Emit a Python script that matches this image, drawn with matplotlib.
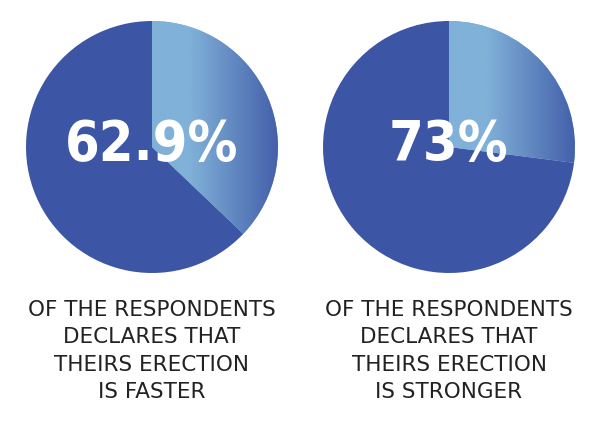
import matplotlib
matplotlib.use("Agg")
import matplotlib.pyplot as plt
import numpy as np
from matplotlib.colors import LinearSegmentedColormap

percent_labels = ["62.9%", "73%"]
light_shares = [37.1, 27.0]
dark_shares = [62.9, 73.0]
captions = ["OF THE RESPONDENTS\nDECLARES THAT\nTHEIRS ERECTION\nIS FASTER",
            "OF THE RESPONDENTS\nDECLARES THAT\nTHEIRS ERECTION\nIS STRONGER"]

DARK = "#3c55a5"
LIGHT = "#80b1d8"
cmap = LinearSegmentedColormap.from_list("g", [(0, LIGHT), (0.3, LIGHT), (1, "#4460ab")])

fig = plt.figure(figsize=(6, 4.33), dpi=100)
ax = fig.add_axes([0, 0, 1, 1])
ax.set_xlim(0, 600); ax.set_ylim(0, 433); ax.set_aspect("equal"); ax.axis("off")

centers = [(152, 286), (449, 286)]
R = 126
for (cx, cy), lt, dk, pl, cap in zip(centers, light_shares, dark_shares, percent_labels, captions):
    wedges, _ = ax.pie([lt, dk], colors=[LIGHT, DARK], startangle=90, counterclock=False,
                       center=(cx, cy), radius=R, frame=True)
    grad = np.linspace(0, 1, 256).reshape(1, -1)
    im = ax.imshow(grad, cmap=cmap, extent=(cx, cx + R, cy - R, cy + R), aspect="auto", zorder=3)
    im.set_clip_path(wedges[0])
    ax.text(cx, cy + 2, pl, color="white", fontsize=40, fontweight="bold",
            ha="center", va="center", zorder=5, family="DejaVu Sans", fontstretch="condensed")
    ax.text(cx, 82, cap, color="#222222", fontsize=15.5, ha="center", va="center",
            linespacing=1.45, family=["Liberation Sans Narrow", "DejaVu Sans"])

ax.set_xlim(0, 600); ax.set_ylim(0, 433)
fig.savefig("out.png", dpi=100)
